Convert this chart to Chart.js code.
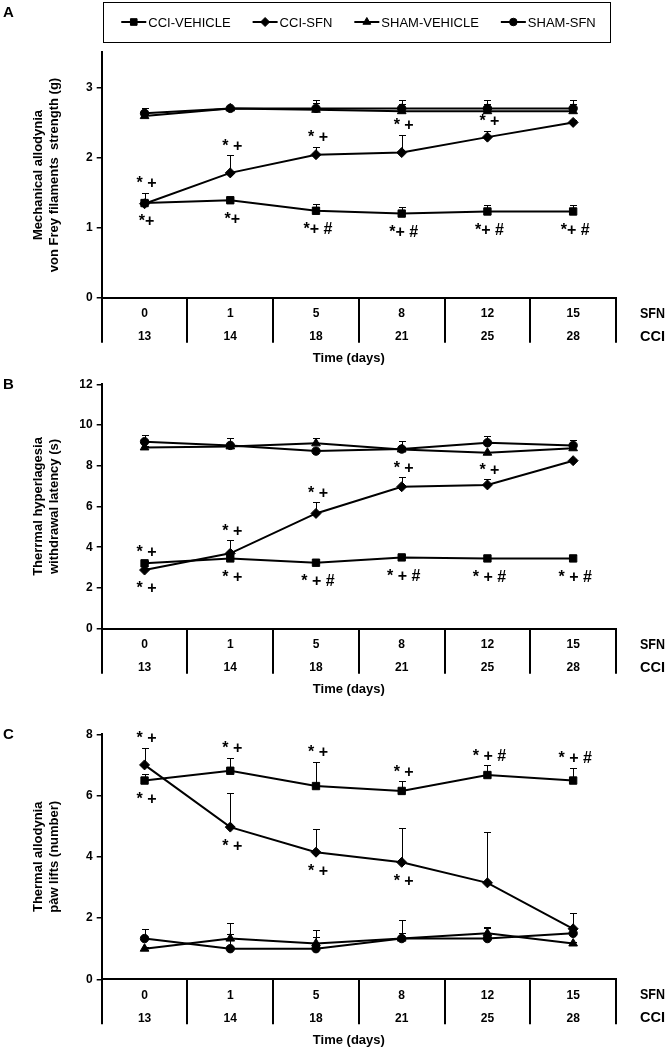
<!DOCTYPE html>
<html><head><meta charset="utf-8">
<script src="https://cdn.jsdelivr.net/npm/chart.js@4.4.1/dist/chart.umd.min.js"></script>
<style>
html,body{margin:0;padding:0;background:#fff;}
body{width:666px;height:1050px;position:relative;overflow:hidden;}
canvas{position:absolute;left:0;}
</style></head><body>
<canvas id="cA" width="666" height="370" style="top:0px"></canvas>
<canvas id="cB" width="666" height="330" style="top:370px"></canvas>
<canvas id="cC" width="666" height="350" style="top:700px"></canvas>
<script>
// ---------- DATA ----------
const sfnDays = ['0','1','5','8','12','15'];
const cciDays = ['13','14','18','21','25','28'];
const seriesNames = ['CCI-VEHICLE','CCI-SFN','SHAM-VEHICLE','SHAM-SFN'];
const xTitle = 'Time (days)';
const rowLabels = ['SFN', 'CCI'];

// Panel A: Mechanical allodynia (g)
const aCciVehicle    = [1.35, 1.39, 1.24, 1.20, 1.23, 1.23];
const aCciVehicleErr = [0.05, 0.03, 0.09, 0.10, 0.09, 0.09];
const aCciSfn        = [1.34, 1.78, 2.04, 2.07, 2.29, 2.50];
const aCciSfnErr     = [0.16, 0.25, 0.11, 0.25, 0.09, 0.03];
const aShamVehicle    = [2.59, 2.70, 2.68, 2.66, 2.66, 2.66];
const aShamVehicleErr = [0.03, 0.02, 0.10, 0.10, 0.10, 0.10];
const aShamSfn        = [2.63, 2.70, 2.70, 2.70, 2.70, 2.70];
const aShamSfnErr     = [0.07, 0.02, 0.12, 0.12, 0.12, 0.12];
const aYTicks = [0, 1, 2, 3];
const aSig = [
  ['CCI-SFN',0,'above','* +'],['CCI-SFN',1,'above','* +'],['CCI-SFN',2,'above','* +'],
  ['CCI-SFN',3,'above','* +'],['CCI-SFN',4,'above','* +'],
  ['CCI-VEHICLE',0,'below','*+'],['CCI-VEHICLE',1,'below','*+'],['CCI-VEHICLE',2,'below','*+ #'],
  ['CCI-VEHICLE',3,'below','*+ #'],['CCI-VEHICLE',4,'below','*+ #'],['CCI-VEHICLE',5,'below','*+ #']
];

// Panel B: Thermal hyperalgesia (s)
const bCciVehicle    = [3.21, 3.45, 3.24, 3.50, 3.45, 3.45];
const bCciVehicleErr = [0.10, 0.10, 0.08, 0.10, 0.15, 0.15];
const bCciSfn        = [2.88, 3.70, 5.66, 6.97, 7.06, 8.25];
const bCciSfnErr     = [0.10, 0.65, 0.54, 0.46, 0.27, 0.10];
const bShamVehicle    = [8.90, 8.95, 9.10, 8.80, 8.64, 8.86];
const bShamVehicleErr = [0.05, 0.10, 0.25, 0.10, 0.05, 0.10];
const bShamSfn        = [9.18, 9.00, 8.72, 8.82, 9.13, 9.00];
const bShamSfnErr     = [0.32, 0.38, 0.10, 0.39, 0.33, 0.25];
const bYTicks = [0, 2, 4, 6, 8, 10, 12];
const bSig = [
  ['CCI-VEHICLE',0,'above','* +'],['CCI-SFN',1,'above','* +'],['CCI-SFN',2,'above','* +'],
  ['CCI-SFN',3,'above','* +'],['CCI-SFN',4,'above','* +'],
  ['CCI-SFN',0,'below','* +'],['CCI-VEHICLE',1,'below','* +'],['CCI-VEHICLE',2,'below','* + #'],
  ['CCI-VEHICLE',3,'below','* + #'],['CCI-VEHICLE',4,'below','* + #'],['CCI-VEHICLE',5,'below','* + #']
];

// Panel C: Thermal allodynia (paw lifts)
const cCciVehicle    = [6.49, 6.81, 6.31, 6.15, 6.67, 6.49];
const cCciVehicleErr = [0.20, 0.42, 0.79, 0.32, 0.32, 0.42];
const cCciSfn        = [7.00, 4.97, 4.15, 3.82, 3.15, 1.65];
const cCciSfnErr     = [0.55, 1.10, 0.75, 1.12, 1.65, 0.50];
const cShamVehicle    = [1.00, 1.33, 1.17, 1.33, 1.50, 1.17];
const cShamVehicleErr = [0.05, 0.50, 0.45, 0.60, 0.20, 0.05];
const cShamSfn        = [1.33, 1.00, 1.00, 1.33, 1.33, 1.50];
const cShamSfnErr     = [0.32, 0.47, 0.37, 0.17, 0.35, 0.10];
const cYTicks = [0, 2, 4, 6, 8];
const cSig = [
  ['CCI-SFN',0,'above','* +'],['CCI-VEHICLE',1,'above','* +'],['CCI-VEHICLE',2,'above','* +'],
  ['CCI-VEHICLE',3,'above','* +'],['CCI-VEHICLE',4,'above','* + #'],['CCI-VEHICLE',5,'above','* + #'],
  ['CCI-VEHICLE',0,'below','* +'],['CCI-SFN',1,'below','* +'],['CCI-SFN',2,'below','* +'],
  ['CCI-SFN',3,'below','* +']
];

// ---------- STYLE ----------
const FONT = "'Liberation Sans', Arial, Helvetica, sans-serif";
Chart.defaults.font.family = FONT;
Chart.defaults.color = '#000';
const markerStyles = {'CCI-VEHICLE':['rect',5.2], 'CCI-SFN':['rectRot',5], 'SHAM-VEHICLE':['triangle',5], 'SHAM-SFN':['circle',4.2]};
const CAT_LABELS = sfnDays.map((d, i) => [d, cciDays[i]]);

function mkDataset(name, values, errors) {
  const [ps, r] = markerStyles[name];
  return {
    label: name, data: values, errors: errors,
    borderColor: '#000', borderWidth: 2, backgroundColor: '#000',
    pointStyle: ps, pointRadius: r, pointHoverRadius: r,
    pointBackgroundColor: '#000', pointBorderColor: '#000', pointBorderWidth: 1,
    tension: 0, fill: false
  };
}

function drawMarker(ctx, style, r, x, y) {
  if (Chart.helpers && Chart.helpers.drawPoint) {
    Chart.helpers.drawPoint(ctx, {pointStyle: style, radius: r, borderWidth: 1, rotation: 0}, x, y);
    return;
  }
  ctx.beginPath(); ctx.arc(x, y, r, 0, Math.PI * 2); ctx.fill(); ctx.stroke();
}

const errorBarPlugin = {
  id: 'errbars',
  beforeDatasetsDraw(chart) {
    const ctx = chart.ctx, xs = chart.scales.x, ys = chart.scales.y;
    ctx.save();
    ctx.strokeStyle = '#000'; ctx.lineWidth = 1;
    chart.data.datasets.forEach(ds => {
      if (!ds.errors) return;
      ds.data.forEach((v, i) => {
        const e = ds.errors[i]; if (!e) return;
        const px = Math.round(xs.getPixelForValue(i)) + 0.5;
        const py = ys.getPixelForValue(v);
        const pt = Math.round(ys.getPixelForValue(v + e)) + 0.5;
        ctx.beginPath();
        ctx.moveTo(px, py); ctx.lineTo(px, pt);
        ctx.moveTo(px - 3.5, pt); ctx.lineTo(px + 3.5, pt);
        ctx.stroke();
      });
    });
    ctx.restore();
  }
};

const sigPlugin = {
  id: 'sig',
  afterDatasetsDraw(chart, args, opts) {
    const list = opts.items || [];
    const ctx = chart.ctx, xs = chart.scales.x, ys = chart.scales.y;
    ctx.save();
    ctx.fillStyle = '#000';
    ctx.font = 'bold 16px ' + FONT;
    ctx.textAlign = 'center'; ctx.textBaseline = 'middle';
    list.forEach(([name, i, side, text]) => {
      const ds = chart.data.datasets.find(d => d.label === name);
      const v = ds.data[i], e = ds.errors[i] || 0;
      const px = xs.getPixelForValue(i);
      const py = side === 'above' ? ys.getPixelForValue(v + e) - 9 : ys.getPixelForValue(v) + 19;
      ctx.fillText(text, px + 2, py);
    });
    ctx.restore();
  }
};

const decoPlugin = {
  id: 'deco',
  afterDraw(chart, args, opts) {
    const ctx = chart.ctx, xs = chart.scales.x;
    ctx.save();
    ctx.fillStyle = '#000';
    // panel letter
    ctx.font = 'bold 15px ' + FONT;
    ctx.textAlign = 'left'; ctx.textBaseline = 'middle';
    ctx.fillText(opts.letter, 3, opts.letterY);
    // row labels of the time table
    ctx.font = 'bold 15px ' + FONT;
    ctx.fillText(rowLabels[0], xs.right + 24, xs.top + 16, 25);
    ctx.fillText(rowLabels[1], xs.right + 24, xs.top + 39, 25);
    // x axis title
    ctx.font = 'bold 13px ' + FONT;
    ctx.textAlign = 'center';
    ctx.fillText(xTitle, (xs.left + xs.right) / 2 - 10, xs.top + 61);
    // legend
    if (opts.legend) {
      const boxL = 103, boxT = 2, boxR = 610, boxB = 42, midY = 22;
      ctx.strokeStyle = '#000'; ctx.lineWidth = 1;
      ctx.strokeRect(boxL + 0.5, boxT + 0.5, boxR - boxL, boxB - boxT);
      ctx.font = '13px ' + FONT;
      const gap = 22, lineLen = 25;
      const items = chart.data.datasets.map(ds => ({ds, w: lineLen + 2 + ctx.measureText(ds.label).width}));
      const total = items.reduce((s, it) => s + it.w, 0) + gap * (items.length - 1);
      let x = (boxL + boxR) / 2 + 2 - total / 2;
      items.forEach(it => {
        ctx.strokeStyle = '#000'; ctx.lineWidth = 2;
        ctx.beginPath(); ctx.moveTo(x, midY); ctx.lineTo(x + lineLen, midY); ctx.stroke();
        ctx.fillStyle = '#000'; ctx.lineWidth = 1;
        const [ps, r] = markerStyles[it.ds.label];
        drawMarker(ctx, ps, r * 0.9, x + lineLen / 2, midY);
        ctx.fillStyle = '#000';
        ctx.textBaseline = 'middle'; ctx.textAlign = 'left';
        ctx.fillText(it.ds.label, x + lineLen + 2, midY + 1);
        x += it.w + gap;
      });
    }
    ctx.restore();
  }
};

function makePanel(canvasId, cfg) {
  const H = document.getElementById(canvasId).height;
  const xHeight = H - cfg.areaBottom;
  return new Chart(document.getElementById(canvasId), {
    type: 'line',
    data: {
      labels: CAT_LABELS,
      datasets: [
        mkDataset(seriesNames[0], cfg.series[0], cfg.errors[0]),
        mkDataset(seriesNames[1], cfg.series[1], cfg.errors[1]),
        mkDataset(seriesNames[2], cfg.series[2], cfg.errors[2]),
        mkDataset(seriesNames[3], cfg.series[3], cfg.errors[3])
      ]
    },
    options: {
      responsive: false, animation: false, devicePixelRatio: 1,
      events: [],
      layout: {padding: {top: cfg.areaTop, right: 50, left: 0, bottom: 0}},
      plugins: {
        legend: {display: false}, tooltip: {enabled: false},
        sig: {items: cfg.sig},
        deco: {letter: cfg.letter, letterY: cfg.letterY, legend: !!cfg.legend}
      },
      scales: {
        x: {
          type: 'category', offset: true,
          grid: {offset: true, drawOnChartArea: false, drawTicks: true, tickLength: 45, color: '#000', lineWidth: 2},
          border: {display: true, color: '#000', width: 2},
          ticks: {autoSkip: false, maxRotation: 0, minRotation: 0, padding: -40.5, color: '#000',
                  font: {size: 12, weight: 'bold', lineHeight: 23 / 12}},
          title: {display: false},
          afterFit: s => { s.height = xHeight; }
        },
        y: {
          min: 0, max: cfg.yMax,
          afterBuildTicks: s => { s.ticks = cfg.yTicks.map(v => ({value: v})); },
          grid: {drawOnChartArea: false, drawTicks: true, tickLength: 5, color: '#000', lineWidth: 1.5},
          border: {display: true, color: '#000', width: 2},
          ticks: {padding: 4, color: '#000', font: {size: 12, weight: 'bold'}},
          title: {display: true, text: cfg.yTitle, color: '#000',
                  font: {size: 13, weight: 'bold', lineHeight: 1.3}, padding: {top: 29.5, bottom: 0}},
          afterFit: s => { s.width = 101.7; }
        }
      }
    },
    plugins: [errorBarPlugin, sigPlugin, decoPlugin]
  });
}

makePanel('cA', {
  areaTop: 52.3, areaBottom: 297.7, yMax: 3.5, yTicks: aYTicks, letter: 'A', letterY: 13, legend: true,
  yTitle: ['Mechanical allodynia', 'von Frey filaments  strength (g)'],
  series: [aCciVehicle, aCciSfn, aShamVehicle, aShamSfn],
  errors: [aCciVehicleErr, aCciSfnErr, aShamVehicleErr, aShamSfnErr],
  sig: aSig
});
makePanel('cB', {
  areaTop: 14.3, areaBottom: 258.7, yMax: 12, yTicks: bYTicks, letter: 'B', letterY: 14.5,
  yTitle: ['Therrmal hyperlagesia', 'withdrawal latency (s)'],
  series: [bCciVehicle, bCciSfn, bShamVehicle, bShamSfn],
  errors: [bCciVehicleErr, bCciSfnErr, bShamVehicleErr, bShamSfnErr],
  sig: bSig
});
makePanel('cC', {
  areaTop: 34.3, areaBottom: 279.3, yMax: 8, yTicks: cYTicks, letter: 'C', letterY: 34.5,
  yTitle: ['Thermal allodynia', 'pàw lifts (number)'],
  series: [cCciVehicle, cCciSfn, cShamVehicle, cShamSfn],
  errors: [cCciVehicleErr, cCciSfnErr, cShamVehicleErr, cShamSfnErr],
  sig: cSig
});
</script>
</body></html>
